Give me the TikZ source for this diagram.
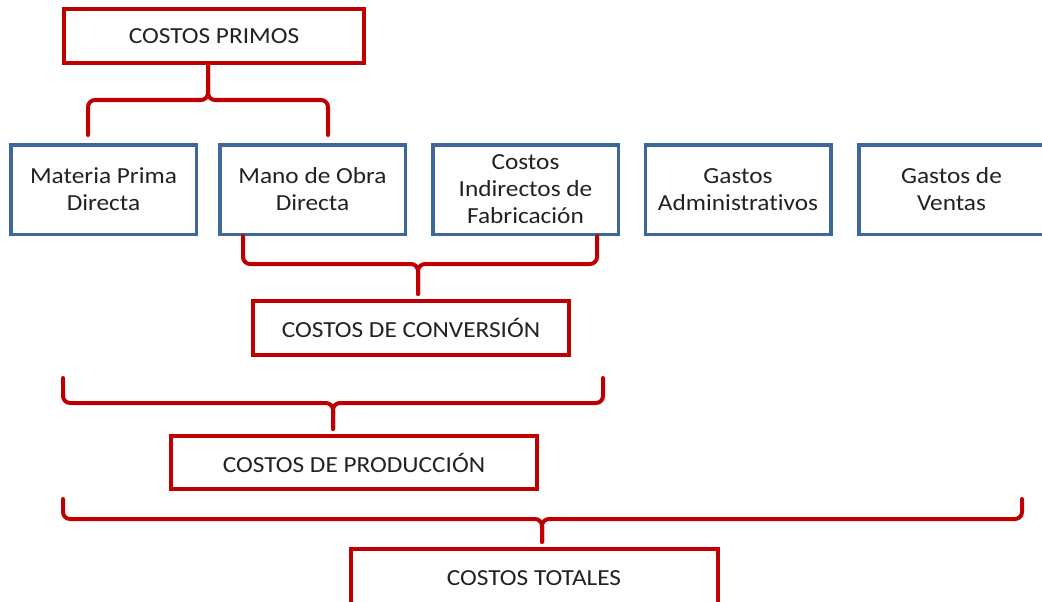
\documentclass[tikz,border=0pt]{standalone}
\usepackage{fontspec}
\setmainfont{Carlito}[FakeStretch=1.1,Ligatures=NoCommon]
\usetikzlibrary{calc}
\definecolor{bred}{HTML}{C00000}
\definecolor{bblue}{HTML}{40679A}
\definecolor{txt}{HTML}{222222}
\tikzset{
  redbox/.style={draw=bred, line width=4pt, fill=white, text=txt, align=center, inner sep=0pt, font=\fontsize{23}{27}\selectfont},
  bluebox/.style={draw=bblue, line width=3.5pt, fill=white, text=txt, align=center, inner sep=0pt, minimum width=185.5pt, minimum height=89.5pt, font=\fontsize{23}{27}\selectfont},
  brace/.style={draw=bred, line width=4pt, rounded corners=7pt, line cap=round}
}
\begin{document}
\begin{tikzpicture}[x=1pt,y=-1pt]
\clip (0,0) rectangle (1042,602);
\fill[white] (0,0) rectangle (1042,602);
% nodes
\node[redbox, minimum width=300pt, minimum height=54pt] (pr) at (214,36) {COSTOS PRIMOS};
\node[bluebox] (mpd) at (103.5,189.5) {Materia Prima\\Directa};
\node[bluebox] (mod) at (312.5,189.5) {Mano de Obra\\Directa};
\node[bluebox] (cif) at (525.5,189.5) {Costos\\Indirectos de\\Fabricación};
\node[bluebox] (ga) at (738,189.5) {Gastos\\Administrativos};
\node[bluebox] (gv) at (951.5,189.5) {Gastos de\\Ventas};
\node[redbox, minimum width=316pt, minimum height=54pt] (conv) at (411,328) {COSTOS DE CONVERSIÓN};
\node[redbox, minimum width=366pt, minimum height=53pt] (prod) at (354,462.5) {COSTOS DE PRODUCCIÓN};
\node[redbox, minimum width=367pt, minimum height=58pt] (tot) at (534,578) {COSTOS TOTALES};
% brace 1: COSTOS PRIMOS -> MPD, MOD
\coordinate (b1s) at ($(pr.south)+(-6,0)$);
\coordinate (b1l) at ($(mpd.north)+(-15.5,-8)$);
\coordinate (b1r) at ($(mod.north)+(15.5,-8)$);
\draw[brace] (b1s) -- (b1s |- 0,100) -- (b1l |- 0,100) -- (b1l);
\draw[brace] (b1s) -- (b1s |- 0,100) -- (b1r |- 0,100) -- (b1r);
% brace 2: MOD, CIF -> CONVERSION
\coordinate (b2l) at ($(mod.south)+(-69.5,0)$);
\coordinate (b2r) at ($(cif.south)+(71.5,0)$);
\coordinate (b2s) at ($(conv.north)+(7,-5)$);
\draw[brace] (b2l) -- (b2l |- 0,264) -- (b2s |- 0,264) -- (b2s);
\draw[brace] (b2r) -- (b2r |- 0,264) -- (b2s |- 0,264) -- (b2s);
% brace 3: -> PRODUCCION
\coordinate (b3l) at (63,378);
\coordinate (b3r) at (603,378);
\coordinate (b3s) at ($(prod.north)+(-21,-5)$);
\draw[brace] (b3l) -- (b3l |- 0,403) -- (b3s |- 0,403) -- (b3s);
\draw[brace] (b3r) -- (b3r |- 0,403) -- (b3s |- 0,403) -- (b3s);
% brace 4: -> TOTALES
\coordinate (b4l) at (63,499);
\coordinate (b4r) at (1022,499);
\coordinate (b4s) at ($(tot.north)+(8,-5)$);
\draw[brace] (b4l) -- (b4l |- 0,519) -- (b4s |- 0,519) -- (b4s);
\draw[brace] (b4r) -- (b4r |- 0,519) -- (b4s |- 0,519) -- (b4s);
\end{tikzpicture}
\end{document}
